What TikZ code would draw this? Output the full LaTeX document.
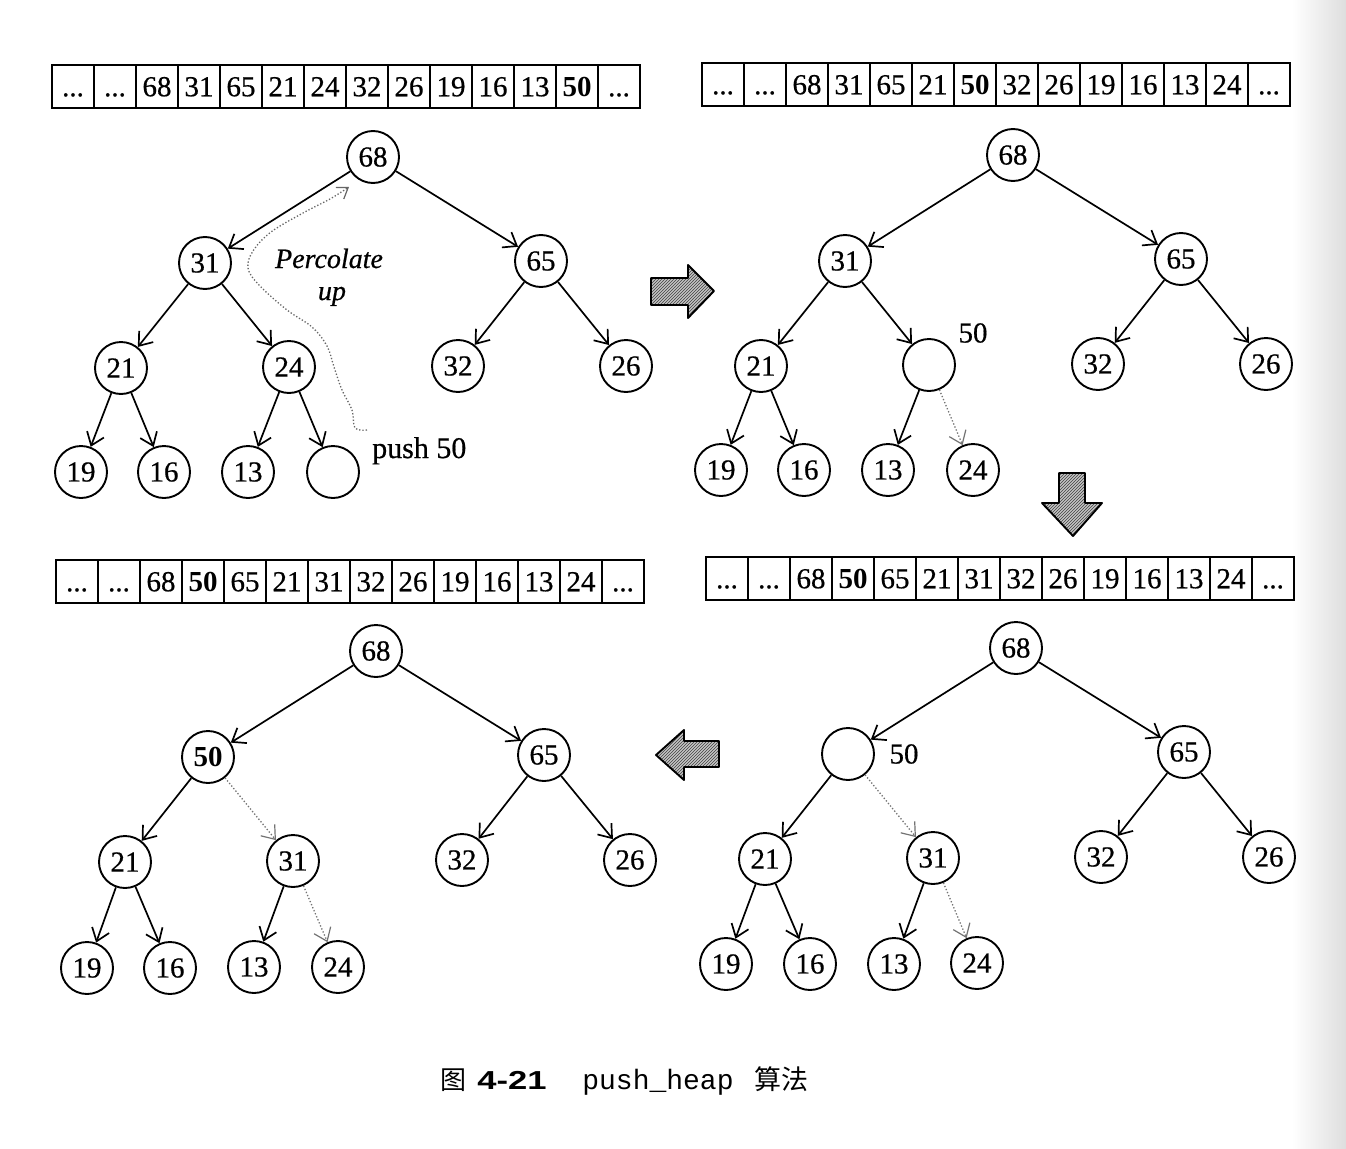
\documentclass[tikz,border=0pt]{standalone}
\usepackage{fontspec}
\setmainfont{Liberation Serif}[UprightFeatures={FakeBold=0.6},ItalicFeatures={FakeBold=0.6}]
\setmonofont{Liberation Mono}
\newfontfamily\capsans{Liberation Sans}
\newfontfamily\cjk{Noto Sans CJK SC}
\usetikzlibrary{arrows.meta,patterns}
\newcommand\numfont{\fontsize{29}{34}\selectfont}
\newcommand\ellip{...}
\tikzset{
  hn/.style={circle,draw,line width=1.9pt,minimum size=52pt,inner sep=0pt,font=\numfont},
  cell/.style={draw,line width=1.7pt,minimum width=42pt,minimum height=43pt,inner sep=0pt,text height=19.5pt,text depth=0pt,font=\numfont},
  edge/.style={line width=1.7pt,-{Straight Barb[length=12pt,width=18pt,line width=1.7pt]}},
  dedge/.style={line width=1.3pt,black!55,dotted,-{Straight Barb[length=12pt,width=18pt,line width=1.2pt]}},
  bigarrow/.style={draw,line width=1.9pt,line join=round,preaction={fill=gray!45},pattern=north east lines,pattern color=black!75},
  perc/.style={line width=1.3pt,black!60,dotted,-{Straight Barb[length=10pt,width=14pt,line width=1.2pt]}},
  lbl/.style={font=\numfont,inner sep=0pt},
}
\newcommand\heaparray[3]{%
  \begin{scope}[shift={#2}]
    \foreach \cellval [count=\k] in {#3} {
      \node[cell] (#1\k) at ({73+42*(\k-1)},86.5) {\cellval};
    }
  \end{scope}}
\begin{document}
\begin{tikzpicture}[x=1pt,y=-1pt]
\useasboundingbox (0,0) rectangle (1346,1148);
\fill[white] (0,0) rectangle (1346,1148);
\shade[left color=white,right color=black!13] (1292,0) rectangle (1346,1148);

% ---------- arrays ----------
\heaparray{ta}{(0,0)}{\ellip,\ellip,68,31,65,21,24,32,26,19,16,13,\textbf{50},\ellip}
\heaparray{ra}{(650,-2)}{\ellip,\ellip,68,31,65,21,\textbf{50},32,26,19,16,13,24,\ellip}
\heaparray{ba}{(654,492)}{\ellip,\ellip,68,\textbf{50},65,21,31,32,26,19,16,13,24,\ellip}
\heaparray{la}{(4,495)}{\ellip,\ellip,68,\textbf{50},65,21,31,32,26,19,16,13,24,\ellip}

% ---------- tree A (top left) ----------
\begin{scope}
\node[hn] (Ar) at (373,157) {68};
\node[hn] (Aa) at (205,263) {31};
\node[hn] (Ab) at (541,261) {65};
\node[hn] (Ac) at (121,368) {21};
\node[hn] (Ad) at (289,367) {24};
\node[hn] (Ae) at (458,366) {32};
\node[hn] (Af) at (626,366) {26};
\node[hn] (Ag) at (81,472) {19};
\node[hn] (Ah) at (164,472) {16};
\node[hn] (Ai) at (248,472) {13};
\node[hn] (Aj) at (333,472) {};
\end{scope}
\foreach \p/\c in {r/a,r/b,a/c,a/d,b/e,b/f,c/g,c/h,d/i,d/j}
  \draw[edge] (A\p) -- (A\c);
\node[font=\itshape\fontsize{28}{32}\selectfont,anchor=base,inner sep=0pt] (pt1) at (329,268) {Percolate};
\node[font=\itshape\fontsize{28}{32}\selectfont,anchor=base,inner sep=0pt] (pt2) at (332,300) {up};
\node[font=\fontsize{30}{34}\selectfont,anchor=base west,inner sep=0pt] (push) at (372,458) {push 50};
\coordinate (pstart) at (367,430);
\coordinate (pend) at (349,187);
\draw[perc] plot[smooth,tension=0.6] coordinates {(pstart) (355,428) (352,410) (342,390) (334,367) (327,346) (312,327) (287,310) (259,285) (248,268) (253,251) (271,232) (303,213) (330,199) (pend)};

% ---------- tree B (top right) ----------
\begin{scope}[shift={(640,-2)}]
\node[hn] (Br) at (373,157) {68};
\node[hn] (Ba) at (205,263) {31};
\node[hn] (Bb) at (541,261) {65};
\node[hn] (Bc) at (121,368) {21};
\node[hn] (Bd) at (289,367) {};
\node[hn] (Be) at (458,366) {32};
\node[hn] (Bf) at (626,366) {26};
\node[hn] (Bg) at (81,472) {19};
\node[hn] (Bh) at (164,472) {16};
\node[hn] (Bi) at (248,472) {13};
\node[hn] (Bj) at (333,472) {24};
\end{scope}
\foreach \p/\c in {r/a,r/b,a/c,a/d,b/e,b/f,c/g,c/h,d/i}
  \draw[edge] (B\p) -- (B\c);
\draw[dedge] (Bd) -- (Bj);
\node[lbl] (Bl) at (973,333) {50};

% ---------- tree C (bottom right) ----------
\begin{scope}[shift={(643,491)}]
\node[hn] (Cr) at (373,157) {68};
\node[hn] (Ca) at (205,263) {};
\node[hn] (Cb) at (541,261) {65};
\node[hn] (Cc) at (122,368) {21};
\node[hn] (Cd) at (290,367) {31};
\node[hn] (Ce) at (458,366) {32};
\node[hn] (Cf) at (626,366) {26};
\node[hn] (Cg) at (83,473) {19};
\node[hn] (Ch) at (167,473) {16};
\node[hn] (Ci) at (251,473) {13};
\node[hn] (Cj) at (334,472) {24};
\end{scope}
\foreach \p/\c in {r/a,r/b,a/c,b/e,b/f,c/g,c/h,d/i}
  \draw[edge] (C\p) -- (C\c);
\draw[dedge] (Ca) -- (Cd);
\draw[dedge] (Cd) -- (Cj);
\node[lbl] (Cl) at (904,754) {50};

% ---------- tree D (bottom left) ----------
\begin{scope}[shift={(3,494)}]
\node[hn] (Dr) at (373,157) {68};
\node[hn] (Da) at (205,263) {\textbf{50}};
\node[hn] (Db) at (541,261) {65};
\node[hn] (Dc) at (122,368) {21};
\node[hn] (Dd) at (290,367) {31};
\node[hn] (De) at (459,366) {32};
\node[hn] (Df) at (627,366) {26};
\node[hn] (Dg) at (84,474) {19};
\node[hn] (Dh) at (167,474) {16};
\node[hn] (Di) at (251,473) {13};
\node[hn] (Dj) at (335,473) {24};
\end{scope}
\foreach \p/\c in {r/a,r/b,a/c,b/e,b/f,c/g,c/h,d/i}
  \draw[edge] (D\p) -- (D\c);
\draw[dedge] (Da) -- (Dd);
\draw[dedge] (Dd) -- (Dj);

% ---------- big arrows ----------
\draw[bigarrow] (651,278) -- (688,278) -- (688,265) -- (714,291) -- (688,318) -- (688,305) -- (651,305) -- cycle;
\draw[bigarrow] (1059,473) -- (1085,473) -- (1085,503) -- (1102,503) -- (1073,536) -- (1042,503) -- (1059,503) -- cycle;
\draw[bigarrow] (719,741) -- (684,741) -- (684,730) -- (656,755) -- (684,780) -- (684,767) -- (719,767) -- cycle;

% ---------- caption ----------
\node[font=\cjk\fontsize{26}{30}\selectfont,anchor=base,inner sep=0pt] (cap1) at (453,1089) {图};
\node[font=\capsans\bfseries\fontsize{26}{30}\selectfont,anchor=base,inner sep=0pt] (cap2) at (512,1089) {\scalebox{1.33}[1]{4-21}};
\node[font=\ttfamily\fontsize{28}{30}\selectfont,anchor=base,inner sep=0pt] (cap3) at (658,1089) {push\_heap};
\node[font=\cjk\fontsize{27}{30}\selectfont,anchor=base,inner sep=0pt] (cap4) at (781,1089) {算法};
\end{tikzpicture}
\end{document}
